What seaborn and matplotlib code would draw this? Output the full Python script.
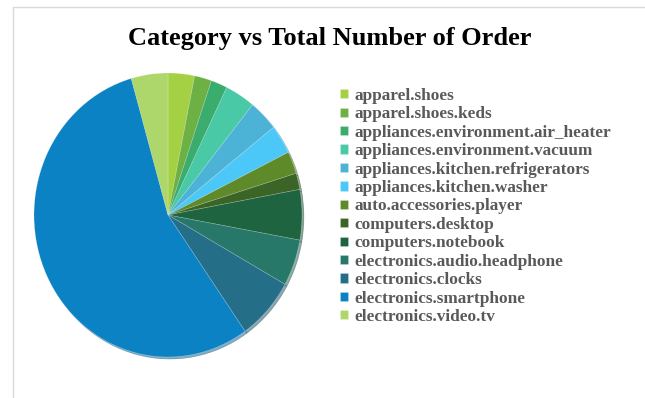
import matplotlib
matplotlib.use("Agg")
import matplotlib.pyplot as plt
import seaborn as sns
from matplotlib.lines import Line2D

sns.set_theme(style="white")
plt.rcParams['font.family'] = ['Liberation Serif', 'DejaVu Serif']

categories = [
    "apparel.shoes", "apparel.shoes.keds", "appliances.environment.air_heater",
    "appliances.environment.vacuum", "appliances.kitchen.refrigerators",
    "appliances.kitchen.washer", "auto.accessories.player", "computers.desktop",
    "computers.notebook", "electronics.audio.headphone", "electronics.clocks",
    "electronics.smartphone", "electronics.video.tv",
]
orders = [319, 206, 197, 364, 356, 331, 253, 186, 572, 528, 714, 5533, 442]
colors = ["#a3d143", "#6db043", "#3aac6e", "#49c9a6", "#4db3d6", "#4cc8f8",
          "#5e8a2a", "#3b6526", "#1f6440", "#28786a", "#256e88", "#0b82c4", "#add66b"]

W, H = 645, 398
fig = plt.figure(figsize=(W / 100, H / 100), dpi=100)
fig.patch.set_facecolor("white")

# frame lines
fig.add_artist(Line2D([13 / W, 13 / W], [0, 1 - 7 / H], color="#d9d9d9", lw=1, transform=fig.transFigure))
fig.add_artist(Line2D([13 / W, 1], [1 - 7 / H, 1 - 7 / H], color="#d9d9d9", lw=1, transform=fig.transFigure))

x0, x1, y0, y1 = 34, 302, 73, 357
ax = fig.add_axes([x0 / W, 1 - y1 / H, (x1 - x0) / W, (y1 - y0) / H])
wedges, _ = ax.pie(orders, colors=colors, startangle=90, counterclock=False,
                   wedgeprops=dict(linewidth=0.4, edgecolor=(1, 1, 1, 0.35)),
                   shadow=dict(ox=0.01, oy=-0.01, shade=0.3))
ax.set_aspect("auto")
ax.set_xlim(-1.0, 1.0)
ax.set_ylim(-1.0, 1.0)
ax.axis("off")

fig.text(330 / W, 1 - 38 / H, "Category vs Total Number of Order", ha="center", va="center",
         fontsize=19, fontweight="bold", color="black", family=['Liberation Serif'])

leg = fig.legend(wedges, categories, loc="upper left", bbox_to_anchor=(340 / W, 1 - 88 / H),
                 frameon=False, handlelength=0.45, handleheight=0.45, handletextpad=0.4,
                 labelspacing=0.14, borderaxespad=0, borderpad=0,
                 prop=dict(family='Liberation Serif', weight='bold', size=12.4))
for t in leg.get_texts():
    t.set_color("#595959")

fig.savefig("out.png", dpi=100, facecolor="white")
